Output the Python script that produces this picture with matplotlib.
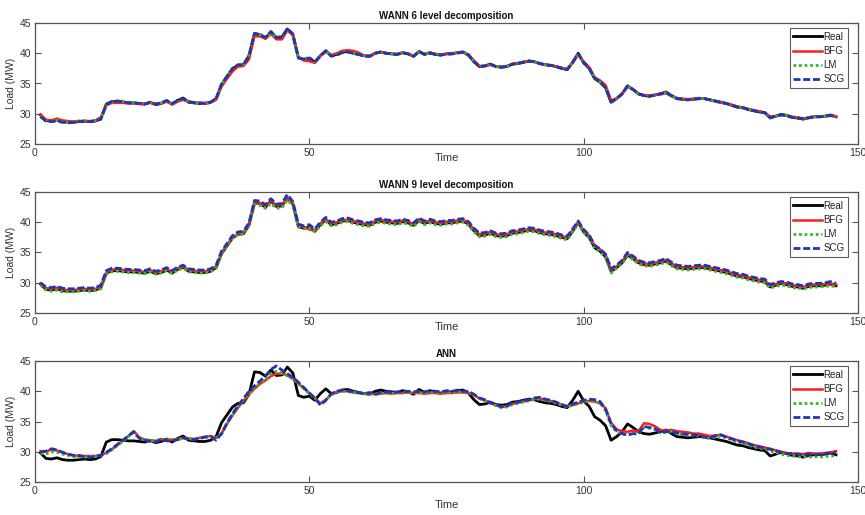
import matplotlib
matplotlib.use("Agg")
import matplotlib.pyplot as plt
import numpy as np

plt.rcParams['font.family'] = ['Liberation Sans', 'DejaVu Sans']

time = list(range(1, 147))

real = [29.8,28.9,28.8,29.0,28.7,28.6,28.6,28.7,28.8,28.7,
        28.8,29.2,31.6,32.0,32.0,31.9,31.8,31.8,31.7,31.6,
        31.9,31.5,31.7,32.1,31.6,32.2,32.6,31.9,31.8,31.7,
        31.7,31.9,32.5,34.8,36.1,37.4,38.0,38.1,39.5,43.2,
        43.1,42.5,43.5,42.6,42.7,44.0,43.0,39.3,39.0,39.2,
        38.5,39.6,40.4,39.6,39.8,40.2,40.3,40.0,39.8,39.6,
        39.5,40.0,40.2,40.0,39.9,39.8,40.1,39.9,39.5,40.3,
        39.8,40.1,39.8,39.7,39.9,39.9,40.1,40.2,39.7,38.6,
        37.8,37.9,38.2,37.8,37.7,37.8,38.2,38.3,38.5,38.7,
        38.6,38.3,38.1,38.0,37.8,37.5,37.3,38.5,40.0,38.4,
        37.5,35.8,35.2,34.3,31.9,32.5,33.3,34.6,34.0,33.3,
        33.0,32.9,33.1,33.3,33.6,33.0,32.5,32.4,32.3,32.4,
        32.5,32.5,32.3,32.1,31.9,31.7,31.4,31.1,31.0,30.7,
        30.5,30.3,30.2,29.3,29.6,29.9,29.7,29.4,29.3,29.1,
        29.4,29.5,29.5,29.6,29.8,29.5]

# WANN 6 level decomposition
bfg6 = [29.9,29.0,28.9,29.2,28.9,28.8,28.7,28.8,28.8,28.8,
        28.9,29.4,31.4,31.8,31.8,31.8,31.7,31.7,31.6,31.6,
        31.8,31.6,31.7,32.0,31.5,32.0,32.3,32.0,31.9,31.8,
        31.8,31.9,32.3,34.5,35.8,37.0,37.8,37.9,39.0,42.8,
        42.8,42.4,43.2,42.3,42.3,43.8,43.0,39.4,38.8,38.7,
        38.4,39.5,40.3,39.7,40.0,40.4,40.5,40.4,40.1,39.6,
        39.6,40.0,40.2,40.0,39.9,39.9,40.1,39.9,39.6,40.2,
        39.9,40.1,39.9,39.8,39.9,40.0,40.1,40.1,39.8,38.8,
        37.9,37.9,38.1,37.8,37.8,37.9,38.2,38.3,38.6,38.7,
        38.6,38.3,38.1,38.0,37.8,37.6,37.4,38.4,39.8,38.6,
        37.7,36.0,35.5,34.7,32.2,32.5,33.2,34.5,34.0,33.3,
        33.1,33.0,33.1,33.2,33.4,32.9,32.6,32.5,32.4,32.5,
        32.6,32.5,32.3,32.1,31.9,31.7,31.5,31.2,31.0,30.8,
        30.6,30.4,30.2,29.5,29.6,29.8,29.8,29.5,29.4,29.2,
        29.3,29.5,29.6,29.6,29.7,29.5]
lm6 = [29.6,28.8,28.7,28.9,28.6,28.6,28.7,28.8,28.8,28.7,
       28.8,29.1,31.5,31.9,32.1,32.1,31.9,31.8,31.7,31.7,
       31.9,31.6,31.8,32.1,31.6,32.1,32.4,32.0,31.8,31.7,
       31.7,31.8,32.4,34.9,36.2,37.5,38.1,38.2,39.8,43.2,
       43.1,42.6,43.3,42.7,42.8,43.8,43.0,39.2,39.1,39.3,
       38.6,39.6,40.3,39.6,39.8,40.1,40.2,40.0,39.8,39.6,
       39.5,40.0,40.1,40.0,39.9,39.8,40.1,39.9,39.6,40.3,
       39.8,40.1,39.8,39.7,39.9,39.9,40.1,40.3,39.8,38.6,
       37.8,37.9,38.2,37.8,37.7,37.8,38.2,38.4,38.5,38.8,
       38.6,38.3,38.1,38.0,37.8,37.5,37.4,38.6,40.0,38.4,
       37.5,35.8,35.2,34.3,31.7,32.5,33.3,34.5,34.0,33.2,
       33.0,32.9,33.1,33.3,33.5,33.0,32.5,32.4,32.3,32.4,
       32.5,32.5,32.3,32.0,31.8,31.7,31.4,31.2,31.0,30.7,
       30.5,30.3,30.1,29.3,29.6,29.8,29.7,29.4,29.3,29.2,
       29.4,29.5,29.5,29.6,29.7,29.5]
scg6 = [29.5,28.8,28.7,28.8,28.6,28.5,28.6,28.7,28.7,28.7,
        28.8,29.1,31.5,32.0,32.1,32.0,31.8,31.8,31.7,31.6,
        31.9,31.6,31.8,32.2,31.7,32.2,32.5,32.0,31.8,31.8,
        31.7,31.9,32.4,34.9,36.2,37.5,38.1,38.1,39.6,43.3,
        43.1,42.6,43.6,42.6,42.6,44.1,43.2,39.2,39.0,39.2,
        38.6,39.5,40.4,39.5,39.7,40.1,40.2,40.0,39.8,39.5,
        39.5,40.0,40.2,40.0,39.9,39.8,40.1,39.9,39.5,40.3,
        39.8,40.0,39.8,39.7,39.9,39.9,40.0,40.2,39.7,38.6,
        37.8,37.9,38.2,37.8,37.7,37.8,38.2,38.3,38.5,38.7,
        38.6,38.3,38.1,38.0,37.8,37.5,37.3,38.5,39.9,38.5,
        37.6,35.9,35.3,34.3,32.0,32.5,33.3,34.6,34.0,33.3,
        33.0,32.9,33.1,33.3,33.5,33.0,32.5,32.4,32.3,32.4,
        32.5,32.5,32.3,32.1,31.9,31.7,31.4,31.1,31.0,30.7,
        30.5,30.3,30.2,29.4,29.6,29.8,29.7,29.4,29.3,29.2,
        29.3,29.5,29.5,29.6,29.7,29.5]

# WANN 9 level decomposition
bfg9 = [29.9,29.1,29.0,29.2,28.9,28.8,28.8,28.9,29.0,28.9,
        29.0,29.4,31.7,32.2,32.2,32.1,32.0,32.0,31.9,31.8,
        32.1,31.7,31.9,32.3,31.8,32.4,32.7,32.1,32.0,31.9,
        31.9,32.1,32.7,34.9,36.2,37.5,38.1,38.2,39.6,43.3,
        43.2,42.7,43.6,42.8,42.9,44.0,43.1,39.5,39.2,38.8,
        38.6,39.8,40.5,39.8,40.0,40.4,40.4,40.2,40.0,39.8,
        39.7,40.2,40.4,40.2,40.1,40.0,40.3,40.1,39.7,40.5,
        40.0,40.3,40.0,39.9,40.1,40.1,40.3,40.4,39.9,38.8,
        38.0,38.1,38.4,38.0,37.9,38.0,38.4,38.5,38.7,38.9,
        38.8,38.5,38.3,38.2,38.0,37.7,37.5,38.7,40.0,38.6,
        37.8,36.1,35.5,34.6,32.1,32.7,33.5,34.8,34.2,33.5,
        33.2,33.1,33.3,33.5,33.8,33.2,32.7,32.6,32.5,32.6,
        32.7,32.7,32.5,32.3,32.1,31.9,31.6,31.3,31.2,30.9,
        30.7,30.5,30.4,29.5,29.8,30.0,29.9,29.6,29.5,29.3,
        29.6,29.7,29.7,29.8,29.9,29.7]
lm9 = [29.6,28.8,28.6,28.8,28.5,28.5,28.5,28.6,28.7,28.6,
       28.7,29.0,31.4,31.8,31.9,31.8,31.7,31.7,31.6,31.5,
       31.8,31.4,31.6,32.0,31.5,32.1,32.4,31.8,31.7,31.6,
       31.6,31.8,32.4,34.8,36.1,37.4,38.0,38.1,39.5,42.9,
       42.8,42.3,43.1,42.3,42.4,43.7,42.8,39.2,38.9,39.1,
       38.4,39.4,40.1,39.4,39.6,40.0,40.1,39.8,39.6,39.4,
       39.3,39.8,40.0,39.8,39.7,39.6,39.9,39.7,39.3,40.1,
       39.6,39.9,39.6,39.5,39.7,39.7,39.9,40.0,39.5,38.4,
       37.6,37.7,38.0,37.6,37.5,37.6,38.0,38.1,38.3,38.5,
       38.4,38.1,37.9,37.8,37.6,37.3,37.1,38.4,39.8,38.3,
       37.4,35.7,35.1,34.2,31.6,32.4,33.2,34.4,33.8,33.1,
       32.8,32.7,32.9,33.1,33.4,32.8,32.3,32.2,32.1,32.2,
       32.3,32.3,32.1,31.9,31.7,31.5,31.2,30.9,30.8,30.5,
       30.3,30.1,30.0,29.1,29.4,29.6,29.5,29.2,29.1,29.0,
       29.2,29.3,29.3,29.4,29.5,29.3]
scg9 = [30.0,29.3,29.2,29.4,29.1,29.0,29.0,29.1,29.2,29.1,
        29.2,29.6,32.0,32.4,32.4,32.3,32.2,32.2,32.1,32.0,
        32.3,31.9,32.1,32.5,32.0,32.6,32.9,32.3,32.2,32.1,
        32.1,32.3,32.9,35.2,36.5,37.8,38.4,38.5,39.9,43.6,
        43.5,42.9,43.9,43.0,43.1,44.6,43.4,39.7,39.4,39.6,
        38.9,40.0,40.8,40.0,40.2,40.6,40.7,40.4,40.2,40.0,
        39.9,40.4,40.6,40.4,40.3,40.2,40.5,40.3,39.9,40.7,
        40.2,40.5,40.2,40.1,40.3,40.3,40.5,40.6,40.1,39.0,
        38.2,38.3,38.6,38.2,38.1,38.2,38.6,38.7,38.9,39.1,
        39.0,38.7,38.5,38.4,38.2,37.9,37.7,38.9,40.2,38.8,
        37.9,36.2,35.6,34.7,32.3,32.9,33.7,35.0,34.4,33.7,
        33.4,33.3,33.5,33.7,34.0,33.4,32.9,32.8,32.7,32.8,
        32.9,32.9,32.7,32.5,32.3,32.1,31.8,31.5,31.4,31.1,
        30.9,30.7,30.6,29.7,30.0,30.2,30.1,29.8,29.7,29.5,
        29.8,29.9,29.9,30.0,30.2,29.9]

# ANN
bfg_ann = [30.1,30.0,30.4,30.2,29.9,29.6,29.4,29.3,29.3,29.3,
           29.3,29.5,29.8,30.4,31.1,31.8,32.6,33.4,32.4,32.0,
           31.9,31.8,32.1,32.0,32.0,32.1,32.3,32.2,32.1,32.3,
           32.5,32.6,32.3,33.0,34.6,36.0,37.3,38.4,39.5,40.4,
           41.2,41.8,42.5,42.9,42.9,42.6,42.1,41.3,40.5,39.7,
           38.9,38.0,38.6,39.5,39.9,40.0,40.0,39.8,39.7,39.6,
           39.6,39.5,39.6,39.7,39.6,39.7,39.7,39.8,39.7,39.7,
           39.6,39.7,39.7,39.6,39.7,39.7,39.8,39.8,39.7,39.4,
           38.8,38.5,38.1,37.7,37.4,37.5,37.9,38.1,38.3,38.5,
           38.7,38.8,38.6,38.4,38.1,37.8,37.5,37.7,38.0,38.3,
           38.4,38.3,38.0,37.2,34.8,33.7,33.4,33.3,33.5,33.4,
           34.7,34.6,34.2,33.6,33.5,33.6,33.4,33.3,33.2,33.0,
           33.0,32.8,32.6,32.7,32.8,32.5,32.2,31.9,31.7,31.4,
           31.1,30.9,30.7,30.5,30.2,30.0,29.8,29.7,29.7,29.6,
           29.8,29.7,29.7,29.8,29.9,30.1]
lm_ann = [29.7,29.6,30.0,29.9,29.6,29.4,29.2,29.1,29.1,29.2,
          29.2,29.4,29.7,30.3,31.0,31.7,32.5,33.2,32.3,32.0,
          31.9,31.8,32.1,32.0,31.9,32.0,32.2,32.1,32.1,32.3,
          32.5,32.6,32.2,32.9,34.6,36.1,37.4,38.5,39.6,40.5,
          41.3,42.0,42.8,43.3,43.0,42.6,42.0,41.2,40.4,39.6,
          38.8,37.9,38.5,39.4,39.8,40.0,39.9,39.8,39.7,39.6,
          39.6,39.5,39.6,39.7,39.7,39.7,39.8,39.8,39.8,39.8,
          39.7,39.8,39.8,39.7,39.8,39.8,39.9,39.9,39.8,39.4,
          38.8,38.4,38.0,37.6,37.3,37.4,37.8,38.0,38.2,38.4,
          38.6,38.7,38.5,38.3,38.0,37.7,37.4,37.7,37.9,38.2,
          38.4,38.3,38.0,36.8,34.3,33.3,32.9,32.8,32.9,33.0,
          34.0,33.9,33.7,33.1,33.2,33.3,33.0,32.8,32.8,32.7,
          32.6,32.3,32.2,32.4,32.6,32.3,32.0,31.6,31.4,31.1,
          30.8,30.6,30.4,30.1,29.9,29.6,29.4,29.3,29.2,29.2,
          29.1,29.2,29.1,29.2,29.3,29.3]
scg_ann = [30.0,30.1,30.5,30.3,29.9,29.6,29.4,29.4,29.2,29.1,
           29.2,29.4,29.9,30.5,31.2,31.9,32.6,33.3,32.2,31.9,
           31.7,31.6,32.0,31.8,31.8,32.0,32.3,32.1,32.0,32.2,
           32.4,32.5,31.9,33.0,34.8,36.3,37.6,38.8,40.0,40.9,
           41.7,42.5,43.6,44.2,43.5,42.9,42.3,41.5,40.6,39.7,
           38.9,37.7,38.5,39.6,40.0,40.2,40.1,39.9,39.8,39.6,
           39.8,39.5,39.8,39.9,39.8,39.9,39.9,40.0,39.9,40.0,
           39.9,40.1,40.0,39.9,40.1,40.0,40.2,40.0,40.0,39.5,
           38.9,38.6,38.1,37.8,37.4,37.6,38.1,38.2,38.5,38.6,
           38.9,39.0,38.7,38.5,38.2,37.8,37.5,37.9,38.2,38.5,
           38.7,38.6,38.3,37.0,34.6,33.5,33.0,32.8,33.0,33.0,
           34.2,34.0,33.8,33.2,33.3,33.4,33.1,32.9,32.9,32.8,
           32.7,32.4,32.3,32.6,32.8,32.4,32.1,31.8,31.6,31.3,
           31.0,30.8,30.6,30.4,30.2,29.9,29.7,29.7,29.6,29.5,
           29.6,29.5,29.6,29.7,29.8,29.9]

titles = ["WANN 6 level decomposition", "WANN 9 level decomposition", "ANN"]
panels = [(bfg6, lm6, scg6), (bfg9, lm9, scg9), (bfg_ann, lm_ann, scg_ann)]
series_names = ["Real", "BFG", "LM", "SCG"]
x_ticks = [0, 50, 100, 150]
y_ticks = [25, 30, 35, 40, 45]

W, H = 865, 515
fig = plt.figure(figsize=(W / 100, H / 100), dpi=100)

# (top, bottom) in pixels of each axes
boxes = [(23, 144), (192, 313), (361, 482)]
left_px, right_px = 35, 858
labelpads = [-3.5, -3.5, 3]

txt_col = '#333333'
spine_col = '#555555'

for i, ((top, bot), title, (bfg, lm, scg)) in enumerate(zip(boxes, titles, panels)):
    ax = fig.add_axes([left_px / W, 1 - bot / H, (right_px - left_px) / W, (bot - top) / H])
    ax.plot(time, real, color='black', lw=2.0, label=series_names[0])
    ax.plot(time, bfg, color='#ff1a1a', lw=1.8, label=series_names[1])
    ax.plot(time, lm, color='#33bb22', lw=2.0, ls=(0, (1, 1)), label=series_names[2])
    ax.plot(time, scg, color='#2233bb', lw=2.0, ls=(0, (2.5, 1)), label=series_names[3])
    ax.set_xlim(0, 150)
    ax.set_ylim(25, 45)
    ax.set_xticks(x_ticks)
    ax.set_yticks(y_ticks)
    ax.tick_params(direction='in', length=4, width=0.8, top=True, right=True,
                   labelsize=7.5, colors=spine_col, labelcolor=txt_col, pad=3)
    for sp in ax.spines.values():
        sp.set_color(spine_col)
        sp.set_linewidth(0.9)
    ax.set_title(title, fontsize=7, fontweight='bold', color='#111111', pad=3)
    ax.set_xlabel("Time", fontsize=8, color=txt_col, labelpad=labelpads[i])
    ax.set_ylabel("Load (MW)", fontsize=7.5, color=txt_col, labelpad=2)
    leg = ax.legend(loc='upper right', bbox_to_anchor=(0.988, 0.955), fontsize=7,
                    frameon=True, fancybox=False, edgecolor='#333333',
                    handlelength=3.0, handletextpad=0.15, borderpad=0.35,
                    labelspacing=0.42, borderaxespad=0.0, markerfirst=True)
    leg.get_frame().set_linewidth(0.8)
    for t in leg.get_texts():
        t.set_color('#222222')

fig.savefig("out.png", dpi=100)
